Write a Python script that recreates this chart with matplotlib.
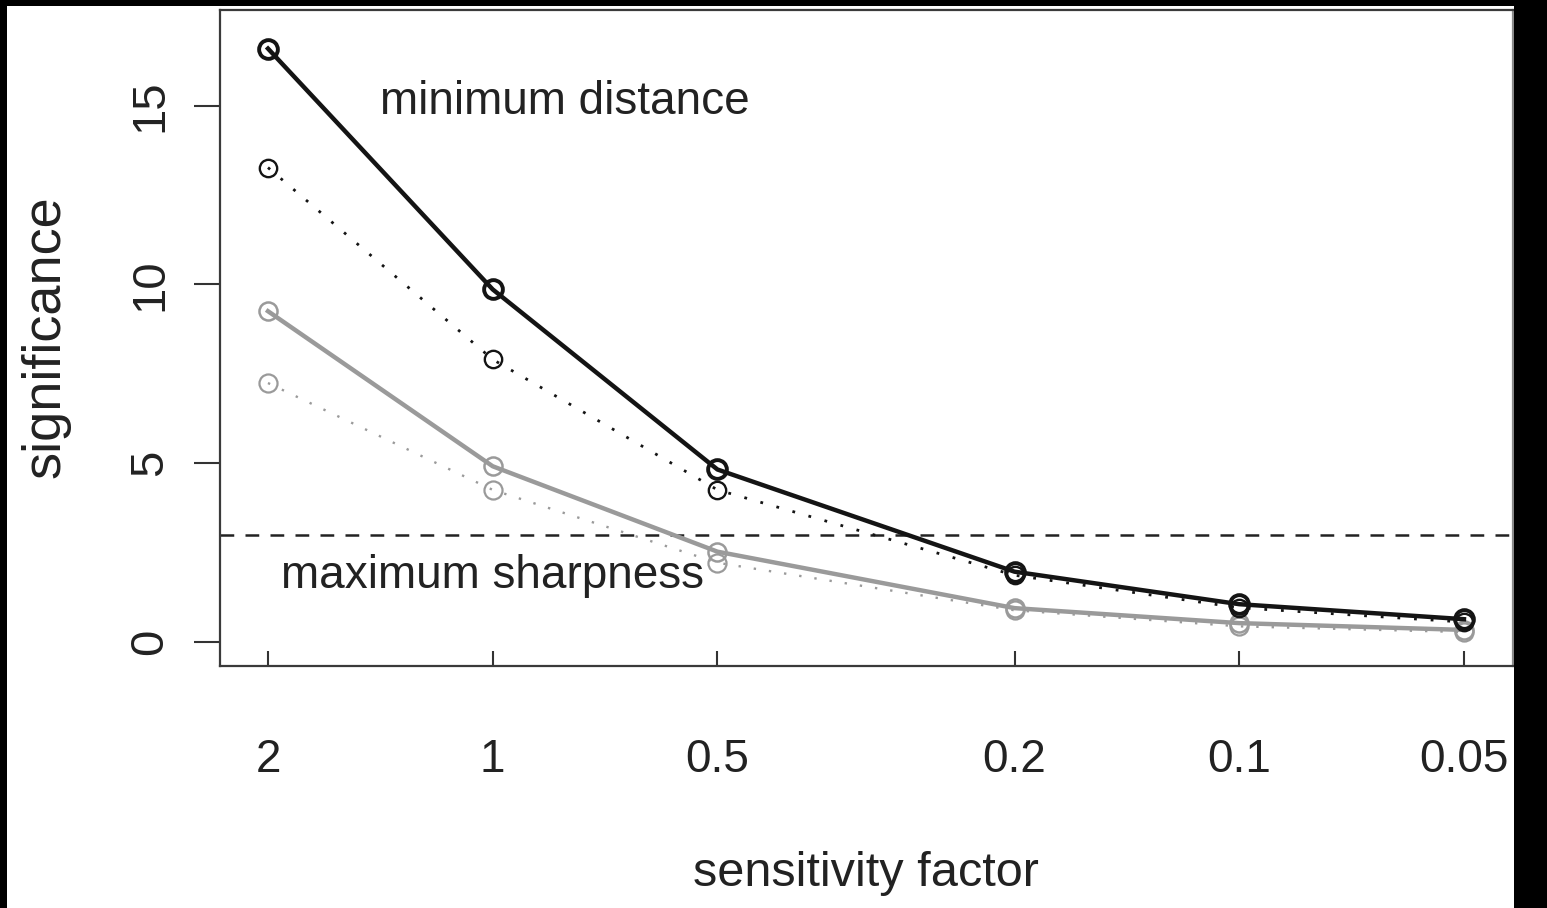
import matplotlib
matplotlib.use("Agg")
import matplotlib.pyplot as plt
from matplotlib.patches import Rectangle
from matplotlib.ticker import FixedLocator, FixedFormatter, NullLocator

# ---- data ----
factors = [2, 1, 0.5, 0.2, 0.1, 0.05]
factor_labels = ["2", "1", "0.5", "0.2", "0.1", "0.05"]
min_dist_solid = [16.6, 9.86, 4.82, 1.96, 1.05, 0.63]
min_dist_dotted = [13.27, 7.90, 4.25, 1.86, 0.95, 0.55]
max_sharp_solid = [9.25, 4.91, 2.52, 0.94, 0.52, 0.33]
max_sharp_dotted = [7.24, 4.25, 2.21, 0.88, 0.43, 0.27]
y_ticks = [0, 5, 10, 15]
threshold = 3

plt.rcParams['font.family'] = ['Liberation Sans', 'DejaVu Sans']
W, H = 1547, 908
fig = plt.figure(figsize=(W / 100, H / 100), dpi=100)
fig.patch.set_facecolor('white')

ax = fig.add_axes([220 / W, 1 - 666 / H, (1513 - 220) / W, (666 - 10) / H])

black = '#141414'
gray = '#9a9a9a'

ax.axhline(threshold, color='#222222', lw=1.8, ls=(0, (5.5, 4.5)), zorder=1)

ax.plot(factors, max_sharp_dotted, color=gray, lw=1.7, ls=(0, (1, 5.5)),
        marker='o', ms=13, mfc='none', mec=gray, mew=1.6, zorder=2)
ax.plot(factors, max_sharp_solid, color=gray, lw=3.2, ls='-',
        marker='o', ms=13, mfc='none', mec=gray, mew=1.8, zorder=3)
ax.plot(factors, min_dist_dotted, color=black, lw=2.0, ls=(0, (1, 5)),
        marker='o', ms=12.5, mfc='none', mec=black, mew=1.7, zorder=4)
ax.plot(factors, min_dist_solid, color=black, lw=3.2, ls='-',
        marker='o', ms=13.5, mfc='none', mec=black, mew=2.8, zorder=5)

ax.text(0.8, 15.1, "minimum distance", fontsize=33, color='#222222',
        ha='center', va='center')
ax.text(1.0, 1.85, "maximum sharpness", fontsize=33, color='#222222',
        ha='center', va='center')

ax.set_xscale('log')
ax.set_xlim(2.319, 0.04298)
ax.set_ylim(-0.68, 17.68)

ax.xaxis.set_major_locator(FixedLocator(factors))
ax.xaxis.set_major_formatter(FixedFormatter(factor_labels))
ax.xaxis.set_minor_locator(NullLocator())
ax.set_yticks(y_ticks)
ax.set_yticklabels([str(v) for v in y_ticks], rotation=90, va='center')

ax.tick_params(axis='x', direction='in', length=11, width=1.5, colors='#333333',
               labelcolor='#222222', labelsize=33, pad=52)
ax.tick_params(axis='y', direction='out', length=18.5, width=1.5, colors='#333333',
               labelcolor='#222222', labelsize=34, pad=16)

for s in ax.spines.values():
    s.set_linewidth(1.6)
    s.set_color('#3a3a3a')
ax.spines['right'].set_color('#8a8a8a')

ax.set_xlabel("sensitivity factor", fontsize=35, color='#222222', va='center')
ax.xaxis.set_label_coords(866 / W, 1 - 874 / H, transform=fig.transFigure)
ax.set_ylabel("significance", fontsize=39, color='#222222', va='center', ha='center')
ax.yaxis.set_label_coords(46 / W, 1 - 337 / H, transform=fig.transFigure)

# black frame remnants of the cropped page
for (x0, y0, w, h) in [(0, 0, 7, H), (0, 0, W, 6), (1514, 0, W - 1514, H)]:
    fig.add_artist(Rectangle((x0 / W, 1 - (y0 + h) / H), w / W, h / H,
                             transform=fig.transFigure, facecolor='black',
                             edgecolor='none', zorder=10))

fig.savefig("out.png", dpi=100, facecolor='white')
